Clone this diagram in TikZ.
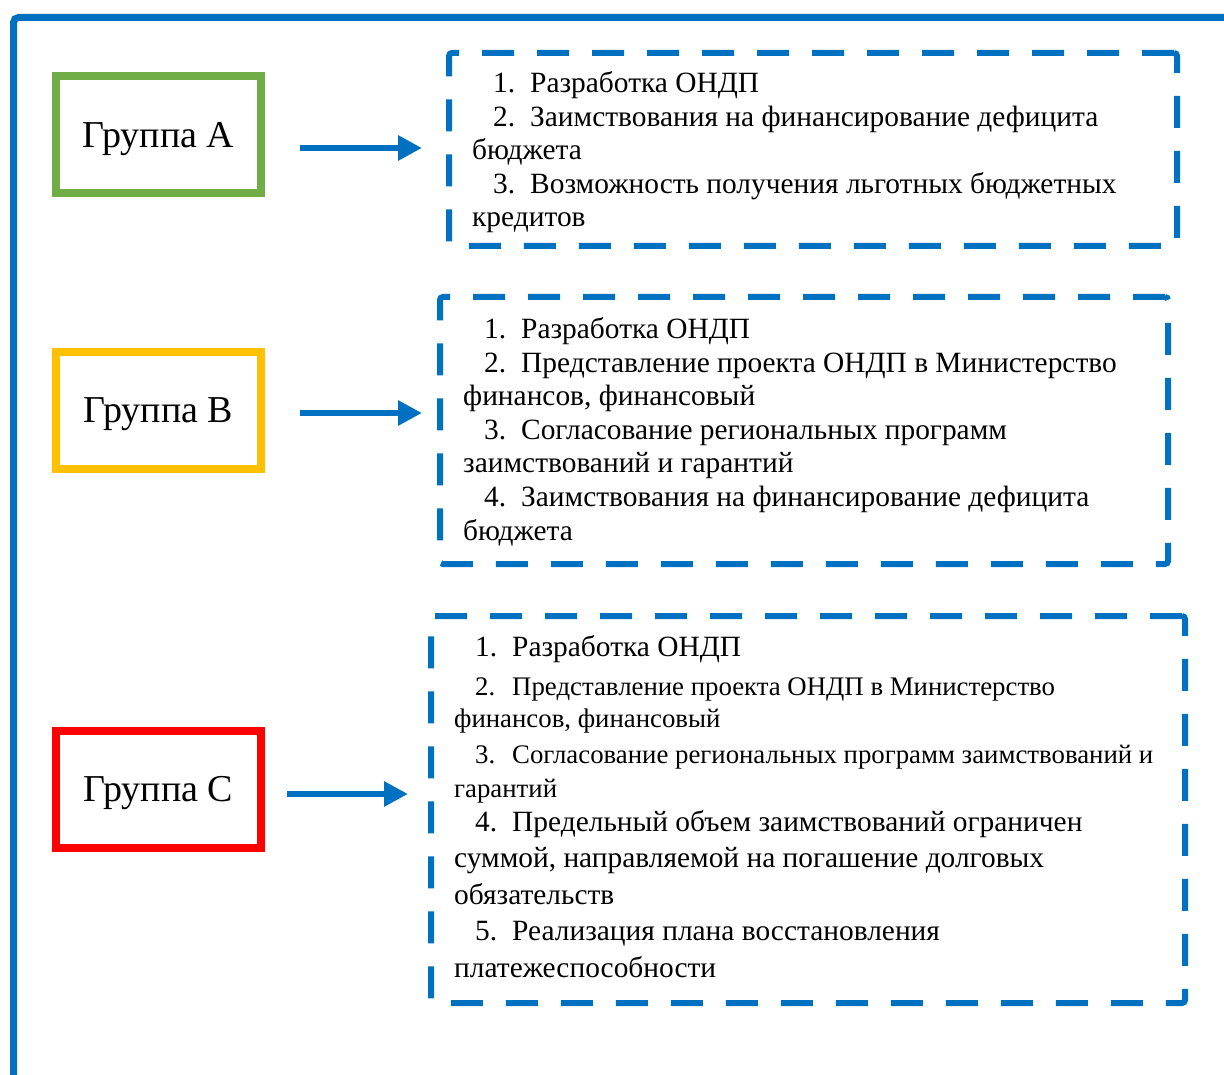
\documentclass[tikz,border=0pt]{standalone}
\usepackage{fontspec}
\setmainfont{Liberation Serif}
\usetikzlibrary{arrows.meta, positioning}

\definecolor{lineblue}{HTML}{0070C0}
\definecolor{grpgreen}{HTML}{70AD47}
\definecolor{grpyellow}{HTML}{FFC000}
\definecolor{grpred}{HTML}{FF0000}

% numbered line: indent, number, text
\newcommand{\itm}[2]{\hspace*{21pt}\makebox[37pt][l]{#1}#2}
\newcommand{\csmall}{\fontsize{26.8}{30}\selectfont}

\begin{document}
\begin{tikzpicture}[x=1pt, y=-1pt, >=latex]
			\tikzstyle{group} = [line width=8pt, draw, rectangle, minimum width=205pt, minimum height=117pt, text depth=0pt, font=\fontsize{38}{42}\selectfont]
			\tikzstyle{list} = [line width=6pt, draw=lineblue, dash pattern=on 32pt off 23pt, rectangle, rounded corners=3pt]
			\tikzstyle{items} = [anchor=base west, align=left, inner sep=0pt, font=\fontsize{29.4}{33.6}\selectfont]
			\tikzstyle{link} = [line width=6pt, draw=lineblue, -{Triangle[length=24pt, width=24pt]}]

			\useasboundingbox (0,0) rectangle (1224,1075);
			\clip (0,0) rectangle (1224,1075);
			\draw[lineblue, line width=7pt, rounded corners=5pt] (13.5,1100) |- (1250,17.5);

			\node[group, draw=grpgreen] 	at (158.5, 134.5) 	(gA) 	{Группа A};
			\node[group, draw=grpyellow]	at (158.5, 410.5)	(gB)	{Группа B};
			\node[group, draw=grpred] 	at (158.5, 789) 	(gC) 	{Группа C};

			\node[list, minimum width=728pt, minimum height=193pt] 	at (813, 149.5) 	(lA) 	{};
			\node[list, minimum width=728pt, minimum height=267pt] 	at (804, 430.5) 	(lB) 	{};
			\node[list, minimum width=754pt, minimum height=387pt] 	at (808, 809.5) 	(lC) 	{};

			% base anchor sits on the last line
			\node[items] at (472, 227) (tA) {\itm{1.}{Разработка ОНДП}\\
				\itm{2.}{Заимствования на финансирование дефицита}\\
				бюджета\\
				\itm{3.}{Возможность получения льготных бюджетных}\\
				кредитов};
			\node[items] at (463, 540) (tB) {\itm{1.}{Разработка ОНДП}\\
				\itm{2.}{Представление проекта ОНДП в Министерство}\\
				финансов, финансовый\\
				\itm{3.}{Согласование региональных программ}\\
				заимствований и гарантий\\
				\itm{4.}{Заимствования на финансирование дефицита}\\
				бюджета};
			\node[items, font=\fontsize{29.4}{32}\selectfont] at (454, 977) (tC) {\itm{1.}{Разработка ОНДП}\\[7pt]
				\csmall\itm{2.}{Представление проекта ОНДП в Министерство}\\
				\csmall финансов, финансовый\\[4pt]
				\csmall\itm{3.}{Согласование региональных программ заимствований и}\\[2pt]
				\csmall гарантий\\[2pt]
				\itm{4.}{Предельный объем заимствований ограничен}\\[4pt]
				суммой, направляемой на погашение долговых\\[5pt]
				обязательств\\[4pt]
				\itm{5.}{Реализация плана восстановления}\\[5pt]
				платежеспособности};

			\draw[link, shorten <=35pt, shorten >=24pt] ([yshift=-13.5pt]gA.east) -- ([yshift=-13.5pt]gA.east -| lA.west);
			\draw[link, shorten <=35pt, shorten >=15pt] ([yshift=-2.5pt]gB.east) -- ([yshift=-2.5pt]gB.east -| lB.west);
			\draw[link, shorten <=22pt, shorten >=20pt] ([yshift=-5pt]gC.east) -- ([yshift=-5pt]gC.east -| lC.west);
\end{tikzpicture}
\end{document}
